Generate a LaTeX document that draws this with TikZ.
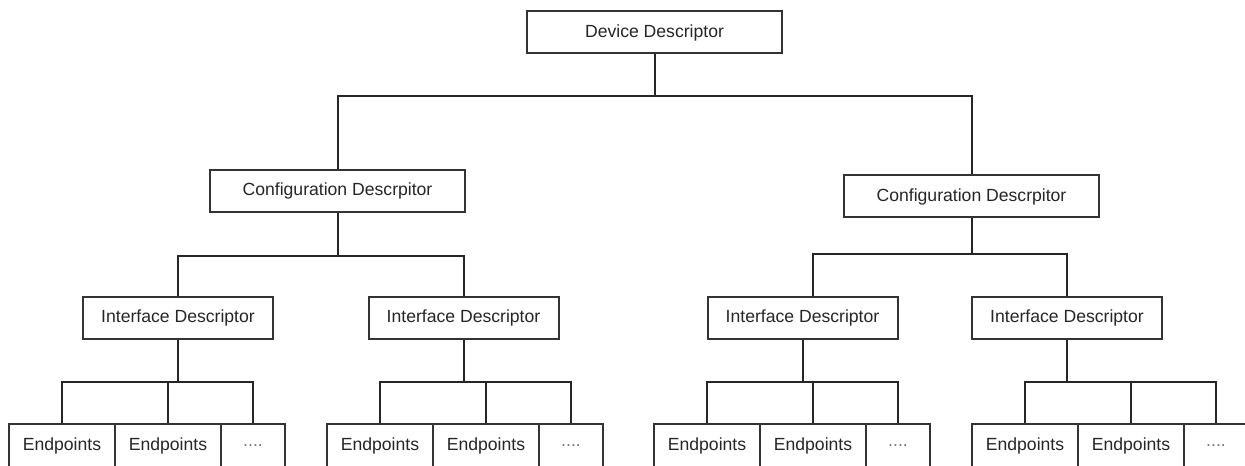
\documentclass[tikz,border=0pt]{standalone}
\usepackage{fontspec}
\setmainfont{Liberation Sans}

\tikzset{every picture/.style={line width=1.5pt}}
\tikzset{
  descbox/.style={draw=black!80, fill=white, inner sep=0pt, text=black!85, line width=1.5pt,
    font=\fontsize{13.2}{15}\selectfont, minimum height=31.5pt},
  bigbox/.style={descbox, minimum width=191.25pt},
  ifbox/.style={descbox, minimum width=142.5pt},
  epbox/.style={descbox, minimum width=79.5pt, minimum height=32.25pt},
  dotbox/.style={descbox, minimum width=48pt, minimum height=32.25pt, text=black!55},
  link/.style={draw=black!85, line width=1.5pt}
}

\begin{document}
\begin{tikzpicture}[x=0.75pt,y=0.75pt,yscale=-1,xscale=1]
\useasboundingbox (0,0) rectangle (1245,466);
\clip (0,0) rectangle (1245,466);

% Device
\node[bigbox] (dev) at (654.5,32.5) {Device Descriptor};
% Configurations
\node[bigbox] (cfgL) at (337.5,191) {Configuration Descrpitor};
\node[bigbox] (cfgR) at (971.5,196.5) {Configuration Descrpitor};
% Interfaces
\node[ifbox] (ifA) at (178,318) {Interface Descriptor};
\node[ifbox] (ifB) at (463.5,318) {Interface Descriptor};
\node[ifbox] (ifC) at (802.5,318) {Interface Descriptor};
\node[ifbox] (ifD) at (1067,318) {Interface Descriptor};
% Endpoints
\node[epbox] (epA1) at (62,445.5) {Endpoints};
\node[epbox] (epA2) at (168,445.5) {Endpoints};
\node[dotbox] (epA3) at (253,445.5) {....};
\node[epbox] (epB1) at (380,445.5) {Endpoints};
\node[epbox] (epB2) at (486,445.5) {Endpoints};
\node[dotbox] (epB3) at (571,445.5) {....};
\node[epbox] (epC1) at (707,445.5) {Endpoints};
\node[epbox] (epC2) at (813,445.5) {Endpoints};
\node[dotbox] (epC3) at (898,445.5) {....};
\node[epbox] (epD1) at (1025,445.5) {Endpoints};
\node[epbox] (epD2) at (1131,445.5) {Endpoints};
\node[dotbox] (epD3) at (1216,445.5) {....};

% bus points
\coordinate (busTop) at (654.5,96.5);
\coordinate (busL) at (337.5,256);
\coordinate (busR) at (971.5,254.5);
\coordinate (busA) at (178,382);
\coordinate (busB) at (463.5,382);
\coordinate (busC) at (802.5,382);
\coordinate (busD) at (1067,382);

% device -> configurations
\draw[link] (dev.south) -- (busTop);
\draw[link] (cfgL.north) |- (busTop) -| (cfgR.north);
% configurations -> interfaces
\draw[link] (cfgL.south) -- (busL);
\draw[link] (ifA.north) |- (busL) -| (ifB.north);
\draw[link] (cfgR.south) -- (busR);
\draw[link] ([xshift=7.5pt]ifC.north) |- (busR) -| (ifD.north);
% interfaces -> endpoints
\draw[link] (ifA.south) -- (busA);
\draw[link] (epA1.north) |- (busA) -| (epA3.north);
\draw[link] (epA2.north) -- (epA2.north |- busA);
\draw[link] (ifB.south) -- (busB);
\draw[link] (epB1.north) |- (busB) -| (epB3.north);
\draw[link] (epB2.north) -- (epB2.north |- busB);
\draw[link] (ifC.south) -- (busC);
\draw[link] (epC1.north) |- (busC) -| (epC3.north);
\draw[link] (epC2.north) -- (epC2.north |- busC);
\draw[link] (ifD.south) -- (busD);
\draw[link] (epD1.north) |- (busD) -| (epD3.north);
\draw[link] (epD2.north) -- (epD2.north |- busD);

\end{tikzpicture}
\end{document}
